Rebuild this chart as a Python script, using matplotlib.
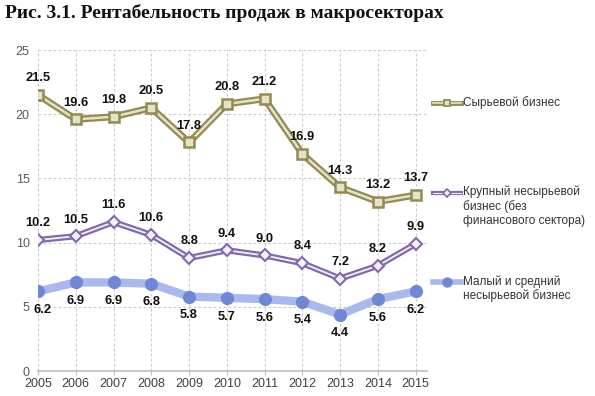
import matplotlib
matplotlib.use("Agg")
import matplotlib.pyplot as plt
import matplotlib.patheffects as pe
from matplotlib.lines import Line2D

years = [2005, 2006, 2007, 2008, 2009, 2010, 2011, 2012, 2013, 2014, 2015]
raw = [21.5, 19.6, 19.8, 20.5, 17.8, 20.8, 21.2, 16.9, 14.3, 13.2, 13.7]
large = [10.2, 10.5, 11.6, 10.6, 8.8, 9.4, 9.0, 8.4, 7.2, 8.2, 9.9]
small = [6.2, 6.9, 6.9, 6.8, 5.8, 5.7, 5.6, 5.4, 4.4, 5.6, 6.2]
names = ["Сырьевой бизнес", "Крупный несырьевой\nбизнес (без\nфинансового сектора)",
         "Малый и средний\nнесырьевой бизнес"]
title = "Рис. 3.1. Рентабельность продаж в макросекторах"
yticks = [0, 5, 10, 15, 20, 25]

olive_o, olive_i = "#948A54", "#E6E2C6"
purp_o, purp_i = "#8468AE", "#F4F0FA"
blue_l, blue_m = "#AAB8EE", "#6F88D6"

plt.rcParams['font.family'] = ['Liberation Sans', 'DejaVu Sans']
fig = plt.figure(figsize=(5.95, 3.96), dpi=100)
ax = fig.add_axes([0.0639, 0.0631, 0.6537, 0.8106])
ax.set_xlim(2005, 2015.3)
ax.set_ylim(0, 25)

def dbl(outer, inner, wo, wi):
    return [pe.Stroke(linewidth=wo, foreground=outer), pe.Stroke(linewidth=wi, foreground=inner)]

# raw
ax.plot(years, raw, color=olive_i, lw=1.8, path_effects=dbl(olive_o, olive_i, 5, 1.8), zorder=4)
ax.plot(years, raw, ls='none', marker='s', ms=6.5, mfc=olive_i, mec=olive_o, mew=1.8, zorder=5)
# large
ax.plot(years, large, color=purp_i, lw=1.3, path_effects=dbl(purp_o, purp_i, 4.5, 1.3), zorder=4)
ax.plot(years, large, ls='none', marker='D', ms=6, mfc=purp_i, mec=purp_o, mew=1.5, zorder=5)
# small
ax.plot(years, small, color=blue_l, lw=6, zorder=4, solid_capstyle='butt')
ax.plot(years, small, ls='none', marker='o', ms=8.5, mfc=blue_m, mec=blue_m, zorder=5)

lab = dict(fontsize=9.3, fontweight='bold', ha='center', va='center', color='#111111', zorder=6)
for x, v in zip(years, raw):
    ax.annotate(f"{v:.1f}", (x, v), xytext=(0, 12), textcoords='offset points', **lab)
for x, v in zip(years, large):
    ax.annotate(f"{v:.1f}", (x, v), xytext=(0, 12), textcoords='offset points', **lab)
for i, (x, v) in enumerate(zip(years, small)):
    dx = 3 if i == 0 else 0
    ax.annotate(f"{v:.1f}", (x, v), xytext=(dx, -13.5), textcoords='offset points', **lab)

ax.set_xticks(years)
ax.set_yticks(yticks)
ax.grid(True, color='#CACACA', ls=(0, (2.5, 2)), lw=0.8)
ax.set_axisbelow(True)
for s in ['top', 'right', 'left']:
    ax.spines[s].set_visible(False)
ax.spines['bottom'].set_color('#BEBEBE')
ax.spines['bottom'].set_linewidth(1.2)
ax.tick_params(axis='y', length=0, pad=6, labelsize=9, labelcolor='#595959')
ax.tick_params(axis='x', length=3, color='#BEBEBE', pad=2, labelsize=9, labelcolor='#404040')

fig.text(0.008, 0.967, title, family=['Liberation Serif', 'DejaVu Serif'], fontweight='bold',
         fontsize=14, va='center', ha='left', color='#111111')

# legend
def leg(y, outer, inner, mode):
    x0, x1 = 433 / 595, 461 / 595
    yf = 1 - y / 396
    xm = (x0 + x1) / 2
    if mode == 'raw':
        fig.add_artist(Line2D([x0, x1], [yf, yf], color=inner, lw=1.2, transform=fig.transFigure,
                              path_effects=dbl(outer, inner, 3.5, 1.2)))
        fig.add_artist(Line2D([xm], [yf], marker='s', ms=5, mfc=inner, mec=outer, mew=1.3,
                              transform=fig.transFigure))
    elif mode == 'large':
        fig.add_artist(Line2D([x0, x1], [yf, yf], color=inner, lw=0.8, transform=fig.transFigure,
                              path_effects=dbl(outer, inner, 3, 0.8)))
        fig.add_artist(Line2D([xm], [yf], marker='D', ms=4.5, mfc=inner, mec=outer, mew=1.2,
                              transform=fig.transFigure))
    else:
        fig.add_artist(Line2D([x0, x1], [yf, yf], color=blue_l, lw=4, transform=fig.transFigure))
        fig.add_artist(Line2D([xm], [yf], marker='o', ms=6.5, mfc=blue_m, mec=blue_m,
                              transform=fig.transFigure))

leg(103, olive_o, olive_i, 'raw')
leg(193, purp_o, purp_i, 'large')
leg(282, blue_l, blue_m, 'small')
lt = dict(fontsize=8.5, color='#333333', ha='left', va='top', linespacing=1.2)
fig.text(463 / 595, 1 - 96 / 396, names[0], **lt)
fig.text(463 / 595, 1 - 186 / 396, names[1], **lt)
fig.text(463 / 595, 1 - 275 / 396, names[2], **lt)

fig.savefig("out.png", dpi=100)
